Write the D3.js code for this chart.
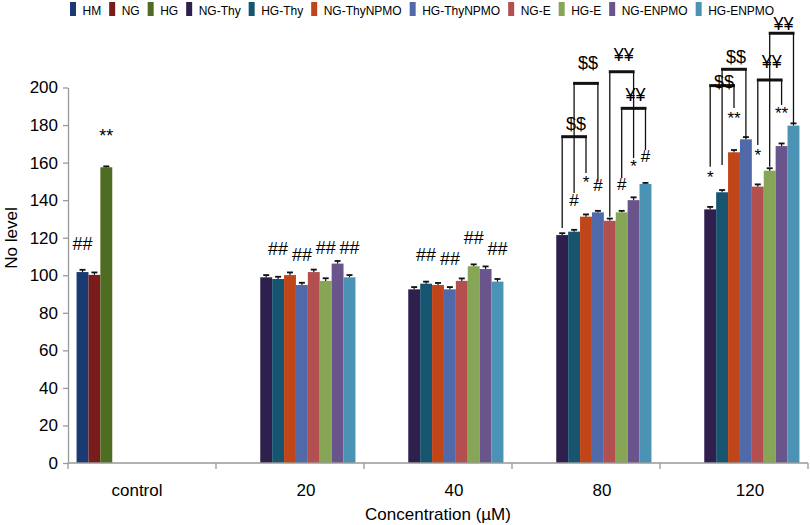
<!DOCTYPE html>
<html><head><meta charset="utf-8">
<script src="https://cdn.jsdelivr.net/npm/d3@7"></script>
<style>
body{margin:0;background:#fff}
svg{display:block;font-family:"Liberation Sans",Arial,sans-serif}
</style>
</head><body>
<svg id="chart" width="810" height="525"></svg>
<script>
// ---------- data ----------
const categories = ["control", "20", "40", "80", "120"];
const seriesNames = ["HM","NG","HG","NG-Thy","HG-Thy","NG-ThyNPMO","HG-ThyNPMO","NG-E","HG-E","NG-ENPMO","HG-ENPMO"];
const seriesColors = ["#1b3a72","#7b1c1c","#4e6c22","#2e1f4c","#165470","#c0461a","#5069a8","#b44f50","#86a556","#6a548c","#4b93b5"];

const valHM         = [101.7, null, null, null, null];
const valNG         = [100.2, null, null, null, null];
const valHG         = [157.5, null, null, null, null];
const valNGThy      = [null, 98.9, 92.5, 121.4, 135.1];
const valHGThy      = [null, 98.0, 95.5, 123.2, 144.2];
const valNGThyNPMO  = [null, 100.1, 94.8, 131.2, 165.5];
const valHGThyNPMO  = [null, 94.8, 92.5, 133.5, 172.4];
const valNGE        = [null, 101.7, 97.0, 129.0, 147.2];
const valHGE        = [null, 97.0, 104.8, 133.5, 155.7];
const valNGENPMO    = [null, 106.2, 103.3, 140.0, 168.8];
const valHGENPMO    = [null, 98.9, 96.6, 148.6, 179.7];

const errHM         = [1.2, null, null, null, null];
const errNG         = [1.3, null, null, null, null];
const errHG         = [0.5, null, null, null, null];
const errNGThy      = [null, 1.2, 1.2, 1.0, 1.3];
const errHGThy      = [null, 1.2, 1.1, 1.0, 1.2];
const errNGThyNPMO  = [null, 1.4, 1.1, 1.2, 1.2];
const errHGThyNPMO  = [null, 1.2, 1.2, 0.8, 1.2];
const errNGE        = [null, 1.3, 1.3, 1.2, 1.2];
const errHGE        = [null, 1.4, 1.0, 0.8, 1.3];
const errNGENPMO    = [null, 1.4, 1.4, 1.5, 1.4];
const errHGENPMO    = [null, 1.2, 1.4, 0.6, 1.2];

const seriesValues = [valHM,valNG,valHG,valNGThy,valHGThy,valNGThyNPMO,valHGThyNPMO,valNGE,valHGE,valNGENPMO,valHGENPMO];
const seriesErrors = [errHM,errNG,errHG,errNGThy,errHGThy,errNGThyNPMO,errHGThyNPMO,errNGE,errHGE,errNGENPMO,errHGENPMO];

const yTicks = [0,20,40,60,80,100,120,140,160,180,200];
const yTitle = "No level";
const xTitle = "Concentration (\u00b5M)";

// significance markers: [category, series, text, level (data units, baseline), font size]
const markers = [
  ["control","HM","##",113.3,18],
  ["control","HG","**",170.9,18],
  ["20","HG-Thy","##",110.6,18],
  ["20","HG-ThyNPMO","##",107.4,18],
  ["20","HG-E","##",111.2,18],
  ["20","HG-ENPMO","##",111.2,18],
  ["40","HG-Thy","##",107.8,18],
  ["40","HG-ThyNPMO","##",105.7,18],
  ["40","HG-E","##",116.6,18],
  ["40","HG-ENPMO","##",110.6,18],
  ["80","HG-Thy","#",137.1,17],
  ["80","NG-ThyNPMO","*",146.4,17],
  ["80","HG-ThyNPMO","#",144.7,17],
  ["80","HG-E","#",145.4,17],
  ["80","NG-ENPMO","*",155.0,17],
  ["80","HG-ENPMO","#",160.2,17],
  ["120","NG-Thy","*",149.4,17],
  ["120","NG-ThyNPMO","**",180.5,17],
  ["120","NG-E","*",160.9,17],
  ["120","NG-ENPMO","**",183.1,17]
];
// brackets: [category, from series, to series, label, bar level, left leg end, right leg end, label baseline level]
const brackets = [
  ["80","NG-Thy","NG-ThyNPMO","$$",173.8,125.2,154.5,177.4],
  ["80","HG-Thy","HG-ThyNPMO","$$",202.2,143.8,149.8,209.7],
  ["80","NG-E","NG-ENPMO","\u00a5\u00a5",208.4,131.2,162.4,213.9],
  ["80","HG-E","HG-ENPMO","\u00a5\u00a5",188.9,151.8,166.7,192.6],
  ["120","NG-Thy","NG-ThyNPMO","$$",201.0,157.8,189.1,199.9],
  ["120","HG-Thy","HG-ThyNPMO","$$",209.7,158.7,172.9,212.9],
  ["120","NG-E","NG-ENPMO","\u00a5\u00a5",204.0,169.4,190.7,210.3],
  ["120","HG-E","HG-ENPMO","\u00a5\u00a5",228.9,157.8,180.9,230.4]
];

// ---------- layout ----------
const svg = d3.select("#chart");
const plotLeft = 68, plotRight = 808, plotTop = 87.5, plotBottom = 463;

const x0 = d3.scaleBand().domain(categories).range([plotLeft, plotRight]).paddingInner(0).paddingOuter(0);
const x1 = d3.scaleBand().domain(seriesNames).range([0, x0.bandwidth()]).paddingInner(0).paddingOuter(0.72);
const y = d3.scaleLinear().domain([0, 200]).range([plotBottom, plotTop]);
const color = d3.scaleOrdinal().domain(seriesNames).range(seriesColors);

const barData = [];
seriesNames.forEach((s, si) => {
  categories.forEach((c, ci) => {
    const v = seriesValues[si][ci];
    if (v != null) barData.push({series: s, cat: c, value: v, err: seriesErrors[si][ci]});
  });
});

const cx = (cat, s) => x0(cat) + x1(s) + x1.bandwidth() / 2;

// bars
svg.append("g").selectAll("rect").data(barData).join("rect")
  .attr("x", d => x0(d.cat) + x1(d.series))
  .attr("y", d => y(d.value))
  .attr("width", x1.bandwidth())
  .attr("height", d => y(0) - y(d.value))
  .attr("fill", d => color(d.series));

// error bars (plus direction)
const eb = svg.append("g").attr("stroke", "#111").attr("stroke-width", 1.2);
eb.selectAll("line.stem").data(barData).join("line").attr("class","stem")
  .attr("x1", d => cx(d.cat, d.series)).attr("x2", d => cx(d.cat, d.series))
  .attr("y1", d => y(d.value)).attr("y2", d => y(d.value + d.err));
eb.selectAll("line.cap").data(barData).join("line").attr("class","cap")
  .attr("x1", d => cx(d.cat, d.series) - 3).attr("x2", d => cx(d.cat, d.series) + 3)
  .attr("y1", d => y(d.value + d.err)).attr("y2", d => y(d.value + d.err))
  .attr("stroke-width", 1.8);

// y axis
const yAxis = svg.append("g").attr("transform", `translate(${plotLeft},0)`)
  .call(d3.axisLeft(y).tickValues(yTicks).tickSize(5).tickSizeOuter(0).tickPadding(5));
yAxis.select(".domain").attr("stroke", "#999").attr("stroke-width", 1.3);
yAxis.selectAll(".tick line").attr("stroke", "#999").attr("stroke-width", 1.3);
yAxis.selectAll(".tick text").attr("font-size", 17).attr("fill", "#000")
  .attr("font-family", '"Liberation Sans",Arial,sans-serif');

// x axis
const bounds = categories.map(c => x0(c)).concat([plotRight]);
const xg = svg.append("g");
xg.append("line").attr("x1", plotLeft).attr("x2", plotRight).attr("y1", plotBottom).attr("y2", plotBottom)
  .attr("stroke", "#999").attr("stroke-width", 1.3);
xg.selectAll("line.tk").data(bounds).join("line").attr("class","tk")
  .attr("x1", d => d).attr("x2", d => d).attr("y1", plotBottom).attr("y2", plotBottom + 6)
  .attr("stroke", "#999").attr("stroke-width", 1.3);
xg.selectAll("text").data(categories).join("text")
  .attr("x", (d, i) => x0(d) + x0.bandwidth() / 2 + (i === 0 ? -5 : 16))
  .attr("y", 496).attr("text-anchor", "middle").attr("font-size", 17).text(d => d);

svg.append("text").attr("x", (plotLeft + plotRight) / 2).attr("y", 520)
  .attr("text-anchor", "middle").attr("font-size", 17).text(xTitle);
svg.append("text").attr("transform", "translate(17,238) rotate(-90)")
  .attr("text-anchor", "middle").attr("font-size", 17).text(yTitle);

// markers
svg.append("g").selectAll("text").data(markers).join("text")
  .attr("x", d => cx(d[0], d[1])).attr("y", d => y(d[3]))
  .attr("text-anchor", "middle").attr("font-size", d => d[4]).text(d => d[2]);

// brackets
const bg = svg.append("g");
brackets.forEach(b => {
  const xa = cx(b[0], b[1]), xb = cx(b[0], b[2]);
  const yb = y(b[4]);
  bg.append("line").attr("x1", xa).attr("x2", xa).attr("y1", yb).attr("y2", y(b[5]))
    .attr("stroke", "#111").attr("stroke-width", 1.3);
  bg.append("line").attr("x1", xb).attr("x2", xb).attr("y1", yb).attr("y2", y(b[6]))
    .attr("stroke", "#111").attr("stroke-width", 1.3);
  bg.append("line").attr("x1", xa - 1).attr("x2", xb + 1).attr("y1", yb).attr("y2", yb)
    .attr("stroke", "#111").attr("stroke-width", 3);
  bg.append("text").attr("x", (xa + xb) / 2 + 2).attr("y", y(b[7]))
    .attr("text-anchor", "middle").attr("font-size", 18).text(b[3]);
});

// legend
const lg = svg.append("g");
let lx = 70;
seriesNames.forEach((s, i) => {
  lg.append("rect").attr("x", lx).attr("y", 2).attr("width", 6).attr("height", 14).attr("fill", seriesColors[i]);
  const t = lg.append("text").attr("x", lx + 12.5).attr("y", 15).attr("font-size", 12).text(s);
  lx += 12.5 + t.node().getComputedTextLength() + 8;
});
</script>
</body></html>
